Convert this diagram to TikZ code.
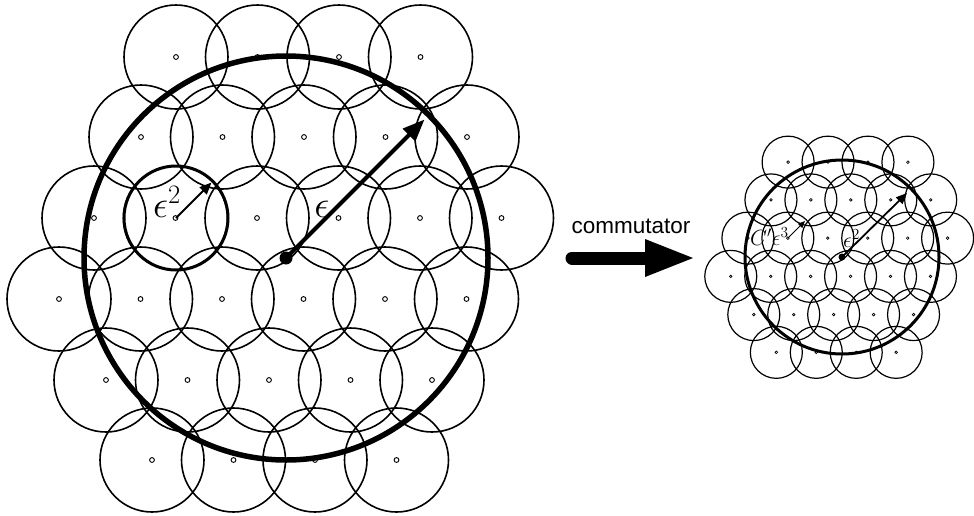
\RequirePackage{fix-cm}
\documentclass[tikz,border=0pt]{standalone}
\usepackage{fontspec}
\newfontfamily\labelsans{Liberation Sans}
\usetikzlibrary{arrows.meta,calc}
\tikzset{
  lcirc/.style={draw=black, line width=1.6pt},
  ldot/.style={draw=black, line width=0.9pt},
  rcirc/.style={draw=black, line width=1.2pt},
  rdot/.style={draw=black, line width=0.7pt},
  bigring/.style={draw=black, line width=5.5pt},
  midring/.style={draw=black, line width=3pt},
  rbigring/.style={draw=black, line width=3pt},
  larrow/.style={line width=4pt, -{Triangle[length=22pt,width=17pt]}},
  lsarrow/.style={line width=2pt, -{Triangle[length=12pt,width=10pt]}},
  rarrow/.style={line width=1.8pt, -{Triangle[length=11pt,width=9pt]}},
  rsarrow/.style={line width=1pt, -{Triangle[length=7pt,width=6pt]}},
  lbl/.style={inner sep=0pt, font=\fontsize{38}{42}\selectfont},
  rlbl/.style={inner sep=0pt, font=\fontsize{22}{24}\selectfont},
}
\begin{document}
\begin{tikzpicture}[x=1pt,y=-1pt]
\useasboundingbox (0,0) rectangle (974,515);
% left grid
\foreach \yy/\xx/\n in {57/176/4, 137/141/5, 218/94/6, 299/59/6, 380/106/5, 460/152/4} {
  \foreach \k in {1,...,\n} {
    \pgfmathsetmacro\px{\xx+81.5*(\k-1)}
    \draw[lcirc] (\px,\yy) circle[radius=52pt];
    \draw[ldot] (\px,\yy) circle[radius=2.4pt];
  }
}
% right grid (scaled copy)
\foreach \yy/\xx/\n in {57/176/4, 137/141/5, 218/94/6, 299/59/6, 380/106/5, 460/152/4} {
  \foreach \k in {1,...,\n} {
    \pgfmathsetmacro\px{842+0.49*(\xx+81.5*(\k-1)-286)}
    \pgfmathsetmacro\py{257+0.472*(\yy-258)}
    \draw[rcirc] (\px,\py) circle[radius=26pt];
    \draw[rdot] (\px,\py) circle[radius=1.3pt];
  }
}
% left figure
\coordinate (Lc) at (286,258);
\coordinate (Ltip) at (424.5,119.5);
\coordinate (Ls) at (176,218);
\coordinate (Lstip) at (211.5,182.5);
\draw[bigring] (Lc) circle[radius=202pt];
\draw[midring] (Ls) circle[radius=52pt];
\draw[larrow] (Lc) -- (Ltip);
\draw[lsarrow] (Ls) -- (Lstip);
\fill (Lc) circle[radius=6.5pt];
\node[lbl, anchor=base] (le) at (322,217) {$\epsilon$};
\node[lbl, anchor=base west] (le2) at (153,217) {$\epsilon^2$};
% commutator arrow
\coordinate (As) at (572,258);
\coordinate (Ab) at (645,258);
\coordinate (At) at (693,258);
\draw[line width=13pt, line cap=round] (As) -- ($(Ab)+(8,0)$);
\fill ($(Ab)+(0,-19)$) -- (At) -- ($(Ab)+(0,19)$) -- cycle;
\node[inner sep=0pt, anchor=base, font=\labelsans\fontsize{22.5}{26}\selectfont] (comm) at (631,233) {commutator};
% right figure
\coordinate (Rc) at (842,257);
\coordinate (Rtip) at (907,193);
\coordinate (Rs) at (788,238);
\coordinate (Rstip) at (805,221);
\draw[rbigring] (Rc) circle[radius=97pt];
\draw[rarrow] (Rc) -- (Rtip);
\draw[rsarrow] (Rs) -- (Rstip);
\fill (Rc) circle[radius=3.5pt];
\node[rlbl, anchor=base west] (rc3) at (750,245) {$C'\epsilon^3$};
\node[rlbl, anchor=base west] (re2) at (843,247) {$\epsilon^2$};
\end{tikzpicture}
\end{document}
